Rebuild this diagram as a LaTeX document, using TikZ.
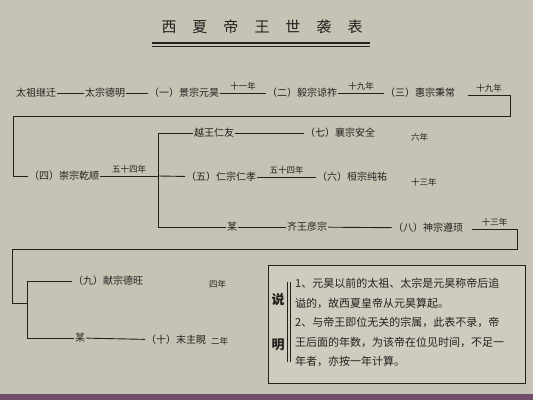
\documentclass[tikz,border=0pt]{standalone}
\usepackage{fontspec}
\newfontfamily\cjk{Noto Sans CJK SC}
\definecolor{papier}{RGB}{198,195,181}
\definecolor{kastenbg}{RGB}{206,204,190}
\definecolor{tinte}{RGB}{35,33,30}
\definecolor{rand}{RGB}{112,78,108}
\tikzset{
  herr/.style={font=\cjk\fontsize{10}{12}\selectfont, text=tinte, inner sep=1pt},
  jahr/.style={font=\cjk\fontsize{8.5}{10}\selectfont, text=tinte, inner sep=1pt},
  linie/.style={draw=tinte, line width=0.9pt},
}
\begin{document}
\begin{tikzpicture}[x=1pt,y=-1pt]
    % Hintergrund
    \fill[papier] (0,0) rectangle (533,400);
    \fill[rand] (0,394) rectangle (533,400);
    \useasboundingbox (0,0) rectangle (533,400);

    % Titel
    \node[text=tinte, font=\cjk\fontsize{15}{17}\selectfont] (titel) at (262,27)
        {西\hspace{16pt}夏\hspace{16pt}帝\hspace{16pt}王\hspace{16pt}世\hspace{16pt}袭\hspace{16pt}表};
    \coordinate (u1) at (152,43);
    \coordinate (u2) at (370,43);
    \draw[linie, line width=1.1pt] (u1) -- (u2);
    \draw[linie, line width=0.7pt] ([yshift=-3pt]u1) -- ([yshift=-3pt]u2);

    % Erste Reihe
    \node[herr, anchor=west] (taizu) at (15,93) {太祖继迁};
    \node[herr, anchor=west] (taizong) at (84,93) {太宗德明};
    \node[herr, anchor=west] (k1) at (148,93) {（一）景宗元昊};
    \node[herr, anchor=west] (k2) at (266,93) {（二）毅宗谅祚};
    \node[herr, anchor=west] (k3) at (384,93) {（三）惠宗秉常};
    \draw[linie] (taizu) -- (taizong);
    \draw[linie] (taizong) -- (k1);
    \draw[linie] (k1) -- node[jahr, above=1pt] {十一年} (k2);
    \draw[linie] (k2) -- node[jahr, above=1pt] {十九年} (k3);

    % Uebergang zur zweiten Reihe
    \coordinate (r1) at (510,95);
    \coordinate (r2) at (510,116);
    \coordinate (l1) at (13,116);
    \coordinate (l2) at (13,176);
    \node[herr, anchor=west] (k4) at (28,176) {（四）崇宗乾顺};
    \draw[linie] (k3.east |- r1) ++(12,0) -- node[jahr, above=1pt] {十九年} (r1) -- (r2) -- (l1) -- (l2) -- (k4);

    % Zweite Reihe
    \coordinate (v1) at (158,133);
    \coordinate (v0) at (158,176);
    \coordinate (v2) at (158,227);
    \draw[linie] (k4) -- node[jahr, above=1pt] {五十四年} (v0);
    \draw[linie] (v1) -- (v2);
    \node[herr, anchor=west] (yue) at (193,133) {越王仁友};
    \node[herr, anchor=west] (k7) at (304,133) {（七）襄宗安全};
    \node[jahr, anchor=west] (j7) at (410,137) {六年};
    \draw[linie] (v1) -- (yue);
    \draw[linie] (yue) -- (k7);
    \node[herr, anchor=west] (k5) at (185,177) {（五）仁宗仁孝};
    \node[herr, anchor=west] (k6) at (316,177) {（六）桓宗纯祐};
    \node[jahr, anchor=west] (j6) at (410,182) {十三年};
    \draw[linie] (v0) -- (k5);
    \draw[linie] (k5) -- node[jahr, above=1pt] {五十四年} (k6);

    % Dritte Reihe
    \node[herr, anchor=west] (mou1) at (226,227) {某};
    \node[herr, anchor=west] (qi) at (286,227) {齐王彦宗};
    \node[herr, anchor=west] (k8) at (392,228) {（八）神宗遵顼};
    \draw[linie] (v2) -- (mou1);
    \draw[linie] (mou1) -- (qi);
    \draw[linie] (qi) -- (k8);
    \coordinate (r3) at (517,229);
    \coordinate (r4) at (517,249);
    \coordinate (l3) at (12,249);
    \coordinate (l4) at (12,303);
    \coordinate (v3) at (27,281);
    \coordinate (v5) at (27,303);
    \coordinate (v4) at (27,338);
    \draw[linie] (k8.east |- r3) ++(8,0) -- node[jahr, above=1pt] {十三年} (r3) -- (r4) -- (l3) -- (l4) -- (v5);

    % Vierte Reihe
    \node[herr, anchor=west] (k9) at (72,281) {（九）献宗德旺};
    \node[jahr, anchor=west] (j9) at (208,284) {四年};
    \node[herr, anchor=west] (mou2) at (74,338) {某};
    \node[herr, anchor=west] (k10) at (145,340) {（十）末主睍};
    \node[jahr, anchor=west] (j10) at (210,341) {二年};
    \draw[linie] (v3) -- (v4);
    \draw[linie] (v3) -- (k9);
    \draw[linie] (v4) -- (mou2);
    \draw[linie] (mou2) -- (k10);

    % Erlaeuterung
    \draw[linie, fill=kastenbg] (268,265) rectangle (525,383);
    \node[text=tinte, font=\cjk\bfseries\fontsize{13}{15}\selectfont] (shuo) at (278,300) {说};
    \node[text=tinte, font=\cjk\bfseries\fontsize{13}{15}\selectfont] (ming) at (278,345) {明};
    \coordinate (d1) at (287,282);
    \coordinate (d2) at (287,362);
    \draw[linie] (d1) -- (d2);
    \draw[linie] ([xshift=3pt]d1) -- ([xshift=3pt]d2);
    \node[text=tinte, font=\cjk\fontsize{11}{19.5}\selectfont, anchor=north west, align=left, inner sep=0pt] (text) at (295,278)
        {1、元昊以前的太祖、太宗是元昊称帝后追\\
         谥的，故西夏皇帝从元昊算起。\\
         2、与帝王即位无关的宗属，此表不录，帝\\
         王后面的年数，为该帝在位见时间，不足一\\
         年者，亦按一年计算。};
\end{tikzpicture}
\end{document}
